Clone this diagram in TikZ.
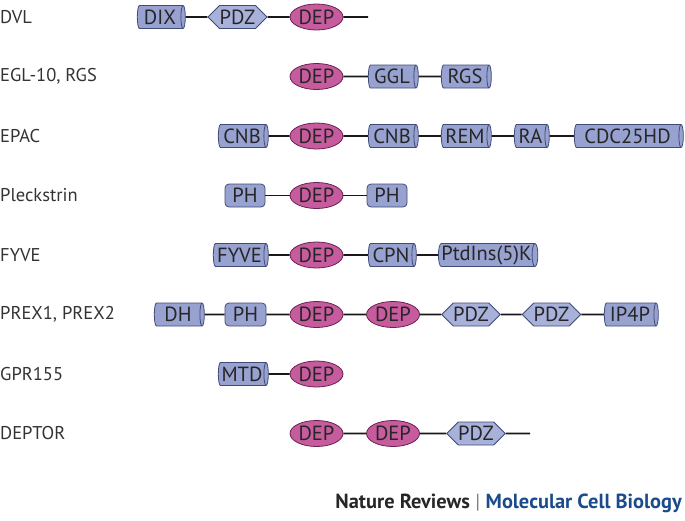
\documentclass[tikz,border=0pt]{standalone}
\usepackage{fontspec}
\setmainfont{PT Sans}
\usetikzlibrary{shapes.geometric, shapes.symbols}
\definecolor{domblue}{HTML}{98A2D0}
\definecolor{domedge}{HTML}{414B78}
\definecolor{pdzblue}{HTML}{A8B1D9}
\definecolor{depfill}{HTML}{C65C9D}
\definecolor{depedge}{HTML}{6A2050}
\definecolor{labgray}{HTML}{333333}
\definecolor{jblue}{HTML}{1B4B8A}

\begin{document}
\begin{tikzpicture}[x=1pt, y=1pt]
\tikzstyle{lbl}=[anchor=west, inner sep=0pt, text=labgray,
                        font=\fontsize{18.5}{18.5}\selectfont]
\tikzstyle{cyl}=[cylinder, draw=domedge, fill=domblue, aspect=0.3,
                        line width=0.8pt, inner sep=0pt, minimum width=23pt,
                        text=black!85, font=\fontsize{20.5}{20.5}\selectfont]
\tikzstyle{rbox}=[rectangle, rounded corners=4pt, draw=domedge, fill=domblue,
                        line width=0.8pt, inner sep=0pt, minimum height=23pt,
                        text=black!85, font=\fontsize{20.5}{20.5}\selectfont]
\tikzstyle{pdz}=[signal, signal to=east and west, signal pointer angle=90,
                        draw=domedge, fill=pdzblue, line width=0.8pt, inner sep=0pt,
                        minimum height=23pt, text=black!85,
                        font=\fontsize{20.5}{20.5}\selectfont]
\tikzstyle{dep}=[ellipse, draw=depedge, fill=depfill, line width=0.8pt, inner sep=0pt,
                        minimum width=53pt, minimum height=26pt, text=black!85,
                        font=\fontsize{20.5}{20.5}\selectfont]
\tikzstyle{link}=[line width=1.8pt, black!90]
\useasboundingbox (0,0) rectangle (685,-520);
	% row labels
	\node[lbl] (dvl) at (0,-17){DVL};
	\node[lbl] (egl) at (0,-76.5){EGL-10, RGS};
	\node[lbl] (epac) at (0,-136){EPAC};
	\node[lbl] (pleck) at (0,-195.5){Pleckstrin};
	\node[lbl] (fyve) at (0,-255){FYVE};
	\node[lbl] (prex) at (0,-314.5){PREX1, PREX2};
	\node[lbl] (gpr) at (0,-374){GPR155};
	\node[lbl] (deptor) at (0,-433.5){DEPTOR};
	% DVL
	\node[cyl, minimum height=48pt] (dix) at (160,-17){DIX};
	\node[pdz, minimum width=59pt] (dvlpdz) at (237.5,-17){PDZ};
	\node[dep] (dvldep) at (316.5,-17){DEP};
	\coordinate (dvlend) at (368,-17);
\draw[link] (dix)--(dvlpdz)--(dvldep)--(dvlend);
	% EGL-10, RGS
	\node[dep] (egldep) at (316.5,-76.5){DEP};
	\node[cyl, minimum height=50pt] (ggl) at (392,-76.5){GGL};
	\node[cyl, minimum height=50pt] (rgs) at (465,-76.5){RGS};
\draw[link] (egldep)--(ggl)--(rgs);
	% EPAC
	\node[cyl, minimum height=50pt] (cnba) at (242,-136){CNB};
	\node[dep] (epacdep) at (316.5,-136){DEP};
	\node[cyl, minimum height=50pt] (cnbb) at (392,-136){CNB};
	\node[cyl, minimum height=50pt] (rem) at (465,-136){REM};
	\node[cyl, minimum height=35pt] (ra) at (530.5,-136){RA};
	\node[cyl, minimum height=109pt] (cdc) at (627.5,-136){CDC25HD};
\draw[link] (cnba)--(epacdep)--(cnbb)--(rem)--(ra)--(cdc);
	% Pleckstrin
	\node[rbox, minimum width=40pt] (pha) at (245,-195.5){PH};
	\node[dep] (pleckdep) at (316.5,-195.5){DEP};
	\node[rbox, minimum width=40pt] (phb) at (387,-195.5){PH};
\draw[link] (pha)--(pleckdep)--(phb);
	% FYVE
	\node[cyl, minimum height=55pt] (fyvebox) at (239.5,-255){FYVE};
	\node[dep] (fyvedep) at (316.5,-255){DEP};
	\node[cyl, minimum height=48pt] (cpn) at (391,-255){CPN};
	\node[cyl, minimum height=97pt] (ptd) at (486.5,-255){PtdIns(5)K};
\draw[link] (fyvebox)--(fyvedep)--(cpn)--(ptd);
	% PREX1, PREX2
	\node[cyl, minimum height=50pt] (dh) at (178,-314.5){DH};
	\node[rbox, minimum width=41pt] (prexph) at (245.5,-314.5){PH};
	\node[dep] (prexdepa) at (316.5,-314.5){DEP};
	\node[dep] (prexdepb) at (393,-314.5){DEP};
	\node[pdz, minimum width=58pt] (prexpdza) at (471,-314.5){PDZ};
	\node[pdz, minimum width=58pt] (prexpdzb) at (551.5,-314.5){PDZ};
	\node[cyl, minimum height=54pt] (ip4p) at (630,-314.5){IP4P};
\draw[link] (dh)--(prexph)--(prexdepa)--(prexdepb)--(prexpdza)--(prexpdzb)--(ip4p);
	% GPR155
	\node[cyl, minimum height=50pt] (mtd) at (242,-374){MTD};
	\node[dep] (gprdep) at (316.5,-374){DEP};
\draw[link] (mtd)--(gprdep);
	% DEPTOR
	\node[dep] (deptordepa) at (316.5,-433.5){DEP};
	\node[dep] (deptordepb) at (393,-433.5){DEP};
	\node[pdz, minimum width=58pt] (deptorpdz) at (476,-433.5){PDZ};
	\coordinate (deptorend) at (530,-433.5);
\draw[link] (deptordepa)--(deptordepb)--(deptorpdz)--(deptorend);
	% journal line
	\node[anchor=east, inner sep=0pt, font=\fontsize{20.4}{20.4}\selectfont] (journal) at (682,-503)
		{\textbf{\color{black!85}Nature Reviews} {\color{black!50}|} \textbf{\color{jblue}Molecular Cell Biology}};
\end{tikzpicture}
\end{document}
